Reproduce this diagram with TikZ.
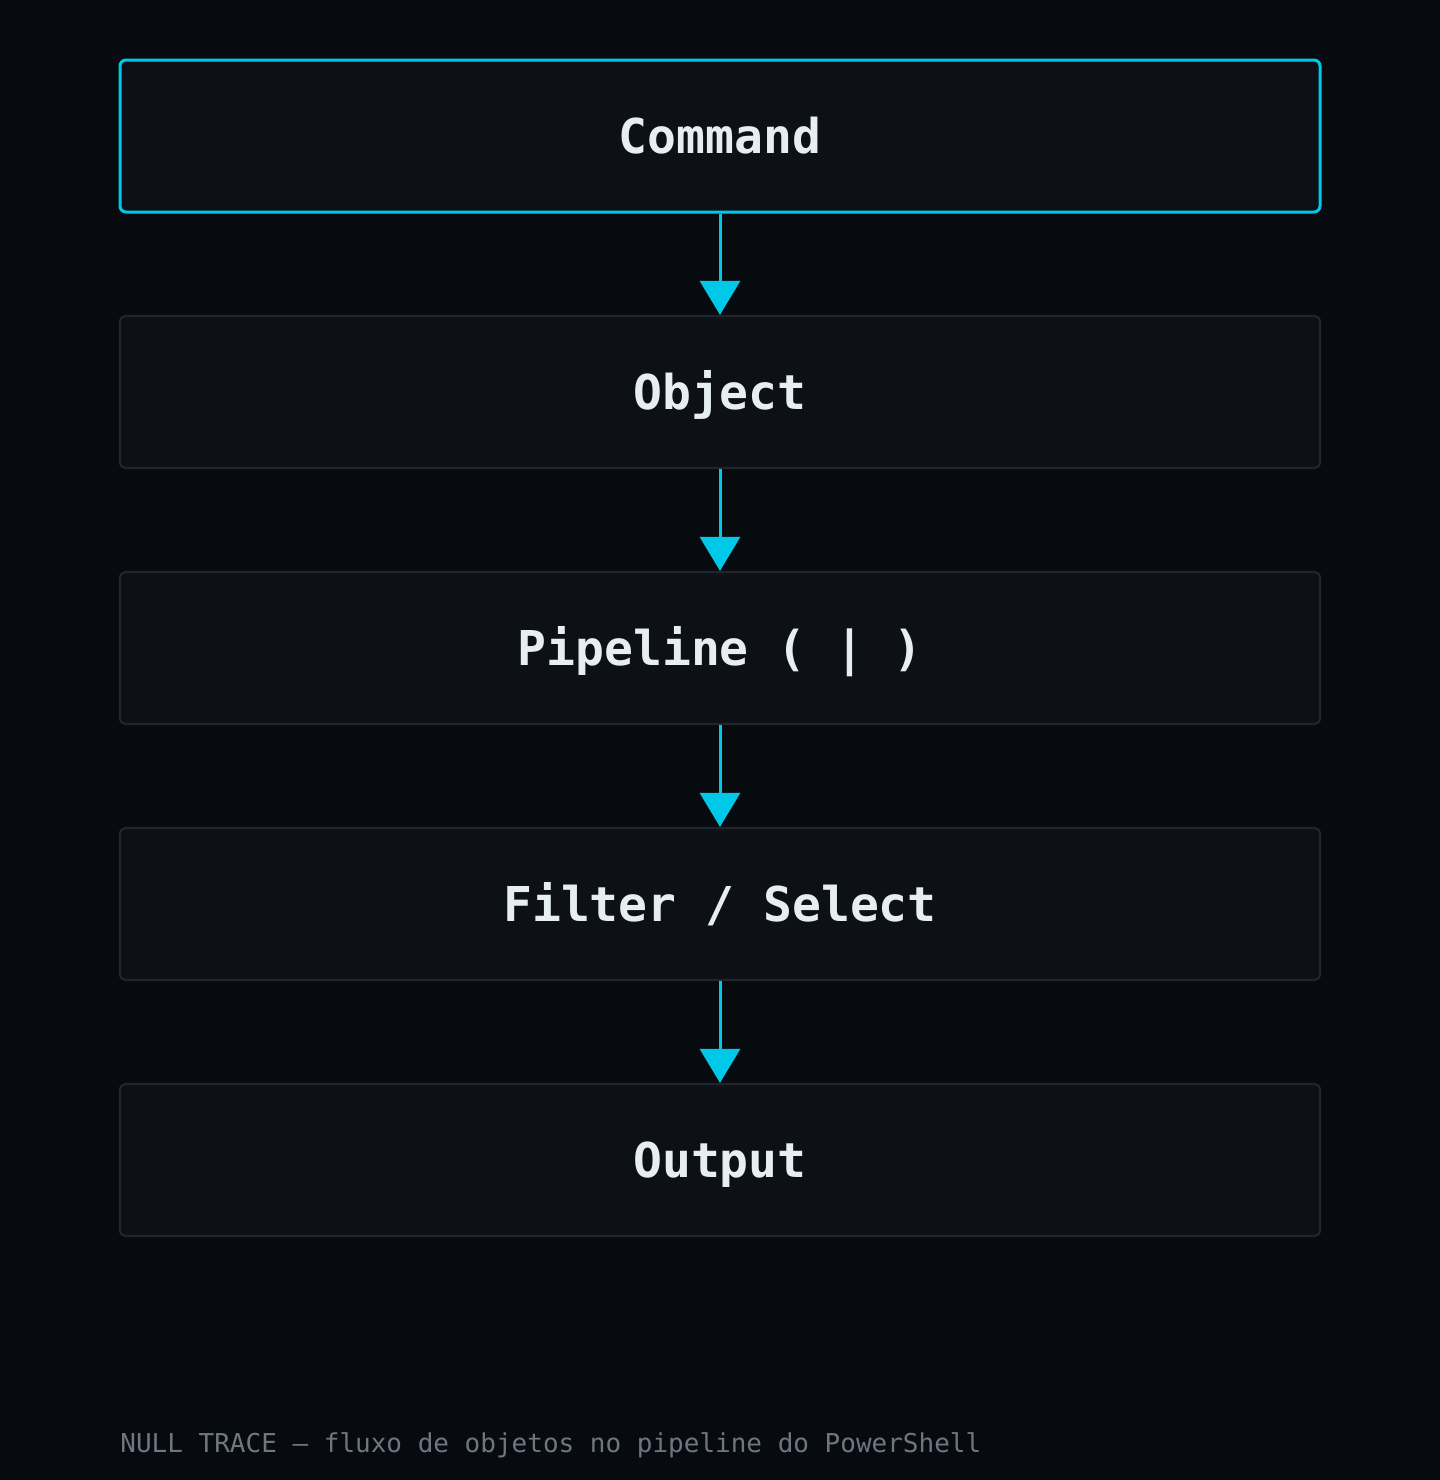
\documentclass[tikz,border=0pt]{standalone}
\usepackage{fontspec}
\setmonofont{DejaVu Sans Mono}
\usetikzlibrary{arrows.meta}
\definecolor{bgc}{HTML}{070A0E}
\definecolor{boxfill}{HTML}{0D1117}
\definecolor{boxline}{HTML}{21262D}
\definecolor{cyanc}{HTML}{00C8E8}
\definecolor{txt}{HTML}{E6EDF3}
\definecolor{capc}{HTML}{6E7681}
\tikzset{
  stage/.style={draw=boxline, line width=1.1pt, fill=boxfill, rounded corners=3pt,
    minimum width=600pt, minimum height=76pt, inner sep=0pt,
    text=txt, font=\ttfamily\bfseries\fontsize{24pt}{28pt}\selectfont,
    text height=17.5pt, text depth=0pt},
  hot/.style={draw=cyanc, line width=1.5pt},
  flow/.style={draw=cyanc, line width=1.5pt, -{Triangle[width=20pt,length=17pt]}, cyanc},
  caption/.style={text=capc, font=\ttfamily\fontsize{13pt}{16pt}\selectfont, inner sep=0pt, anchor=base west}
}
\begin{document}
\begin{tikzpicture}[x=0.5pt,y=-0.5pt]
\fill[bgc] (0,0) rectangle (1440,1480);
\useasboundingbox (0,0) rectangle (1440,1480);
\node[stage,hot] (cmd) at (720,136) {Command};
\node[stage] (obj) at (720,392) {Object};
\node[stage] (pipe) at (720,648) {Pipeline ( | )};
\node[stage] (filt) at (720,904) {Filter / Select};
\node[stage] (out) at (720,1160) {Output};
\draw[flow] (cmd.south) -- (obj.north);
\draw[flow] (obj.south) -- (pipe.north);
\draw[flow] (pipe.south) -- (filt.north);
\draw[flow] (filt.south) -- (out.north);
\node[caption] (cap) at (120,1452) {NULL TRACE — fluxo de objetos no pipeline do PowerShell};
\end{tikzpicture}
\end{document}
